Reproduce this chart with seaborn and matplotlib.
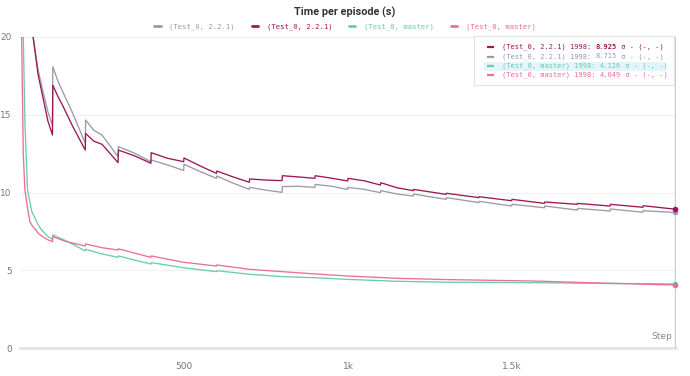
import matplotlib
matplotlib.use("Agg")
import matplotlib.pyplot as plt
import seaborn as sns
import pandas as pd
from matplotlib.patches import Rectangle

# series names / colours
names = ["(Test_0, 2.2.1) ", "(Test_0, 2.2.1)", "(Test_0, master) ", "(Test_0, master)"]
labels = ["(Test_0, 2.2.1)", "(Test_0, 2.2.1)", "(Test_0, master)", "(Test_0, master)"]
colors = ["#9a9ca3", "#9c1756", "#6ccbb0", "#ec6e97"]

# 2.2.1 runs (sawtooth drops every 100 steps)
steps_221 = [1, 20, 40, 55, 70, 85, 99, 100, 115, 130, 160, 199, 200, 225, 250, 299, 300, 350,
             399, 400, 450, 499, 500, 550, 599, 600, 650, 699, 700, 750, 799, 800, 850, 899,
             900, 950, 999, 1000, 1050, 1099, 1100, 1150, 1199, 1200, 1299, 1300, 1399, 1400,
             1499, 1500, 1599, 1600, 1699, 1700, 1799, 1800, 1899, 1900, 1998]
gray_221 = [32, 24, 20.0, 17.9, 16.5, 15.2, 14.3, 18.1, 17.2, 16.5, 15.13, 13.16, 14.66, 14.0,
            13.7, 12.3, 12.95, 12.52, 11.98, 12.09, 11.77, 11.42, 11.81, 11.34, 10.91, 11.06,
            10.6, 10.2, 10.33, 10.15, 10.01, 10.38, 10.4, 10.33, 10.52, 10.4, 10.2, 10.33,
            10.2, 9.99, 10.12, 9.9, 9.77, 9.9, 9.56, 9.67, 9.35, 9.43, 9.13, 9.24, 9.02,
            9.13, 8.87, 8.98, 8.81, 8.94, 8.73, 8.83, 8.715]
red_221 = [32, 24, 20.0, 17.6, 16.1, 14.6, 13.7, 16.9, 16.2, 15.6, 14.28, 12.73, 13.8, 13.3,
           13.1, 11.92, 12.73, 12.35, 11.88, 12.56, 12.2, 11.98, 12.22, 11.7, 11.23, 11.38,
           11.0, 10.66, 10.87, 10.8, 10.76, 11.08, 11.0, 10.91, 11.08, 10.92, 10.74, 10.91,
           10.75, 10.48, 10.63, 10.3, 10.12, 10.2, 9.88, 9.95, 9.67, 9.73, 9.47, 9.56, 9.3,
           9.39, 9.24, 9.3, 9.13, 9.24, 9.05, 9.15, 8.925]

# master runs
steps_master = [1, 5, 10, 15, 23, 30, 36, 56, 66, 86, 99, 100, 140, 199, 200, 250, 299, 300,
                350, 399, 400, 500, 599, 600, 700, 800, 900, 1000, 1150, 1300, 1560, 1800, 1998]
teal_master = [32, 27, 20.0, 14.5, 10.16, 9.4, 8.77, 7.9, 7.59, 7.15, 7.0, 7.27, 6.9, 6.24,
               6.35, 6.05, 5.83, 5.92, 5.65, 5.4, 5.49, 5.16, 4.91, 4.97, 4.74, 4.59, 4.52,
               4.41, 4.29, 4.23, 4.2, 4.15, 4.126]
pink_master = [30, 20.0, 12.5, 10.16, 9.0, 8.12, 7.9, 7.37, 7.2, 6.95, 6.84, 7.16, 6.85, 6.56,
               6.69, 6.45, 6.3, 6.38, 6.1, 5.83, 5.92, 5.51, 5.27, 5.34, 5.06, 4.91, 4.76,
               4.63, 4.48, 4.4, 4.31, 4.16, 4.049]

last_vals = ["8.715", "8.925", "4.126", "4.049"]

frames = []
for name, st, vals in [(names[0], steps_221, gray_221), (names[1], steps_221, red_221),
                       (names[2], steps_master, teal_master), (names[3], steps_master, pink_master)]:
    frames.append(pd.DataFrame({"step": st, "value": vals, "series": name}))
df = pd.concat(frames, ignore_index=True)

sns.set_style("white")
fig = plt.figure(figsize=(6.9, 3.76), dpi=100)
ax = fig.add_axes([20 / 690, 1 - 348 / 376, 656 / 690, 311 / 376])

sns.lineplot(data=df, x="step", y="value", hue="series", hue_order=names,
             palette=dict(zip(names, colors)), estimator=None, sort=True,
             linewidth=0.95, legend=False, ax=ax)

ax.set_xlim(0, 2000)
ax.set_ylim(0, 20)
ax.set_xlabel("")
ax.set_ylabel("")
for s in ["top", "right", "left"]:
    ax.spines[s].set_visible(False)
ax.spines["bottom"].set_color("#e4e4e4")
ax.spines["bottom"].set_linewidth(2)
ax.set_yticks([0, 5, 10, 15, 20])
ax.set_yticklabels(["0", "5", "10", "15", "20"])
ax.set_xticks([500, 1000, 1500])
ax.set_xticklabels(["500", "1k", "1.5k"])
ax.tick_params(axis="x", direction="inout", length=8, width=0.8, color="#dddddd",
               labelsize=6.5, labelcolor="#777777", pad=6)
ax.tick_params(axis="y", length=0, labelsize=6.5, labelcolor="#777777", pad=6)
ax.grid(axis="y", color="#f0f0f0", linewidth=0.8)
ax.set_axisbelow(True)

# hover line and end markers
ax.axvline(1998, color="#a9d8f0", linewidth=1, zorder=5)
for c, v in zip(colors, [gray_221[-1], red_221[-1], teal_master[-1], pink_master[-1]]):
    ax.scatter([1998], [v], s=9, color=c, edgecolor=c, zorder=6, clip_on=False)

ax.text(0.994, 0.022, "Step", transform=ax.transAxes, ha="right", va="bottom",
        fontsize=6.5, color="#888888")

# title
fig.text(0.5, 1 - 12 / 376, "Time per episode (s)", ha="center", va="center",
         fontsize=7.8, fontweight="bold", color="#333333", family="Roboto")

# top legend
mono = "DejaVu Sans Mono"
handles = [plt.Line2D([], [], color=c, linewidth=2) for c in colors]
leg = fig.legend(handles, labels, loc="center", bbox_to_anchor=(0.5, 1 - 27 / 376), ncol=4,
                 frameon=False, prop={"family": mono, "size": 5.2}, handlelength=0.9,
                 handletextpad=1.2, columnspacing=2.3)
for t, c in zip(leg.get_texts(), colors):
    t.set_color(c)

# hover box legend (top right)
box = Rectangle((0.692, 0.846), 0.305, 0.157, transform=ax.transAxes, facecolor="white",
                edgecolor="#e4e4e4", linewidth=0.8, zorder=7, clip_on=False)
ax.add_patch(box)
hl = Rectangle((0.708, 0.892), 0.276, 0.029, transform=ax.transAxes, facecolor="#e3f4fa",
               edgecolor="none", zorder=7.5, clip_on=False)
ax.add_patch(hl)
row_order = [1, 0, 2, 3]
row_y = [47, 56.5, 66, 75]
fs = 5.0
for i, y in zip(row_order, row_y):
    yax = (348 - y) / 311
    ax.plot([0.712, 0.722], [yax, yax], transform=ax.transAxes, color=colors[i], linewidth=1.6,
            zorder=8, clip_on=False, solid_capstyle="butt")
    first = ax.text(0.735, yax, labels[i] + " 1998: ", transform=ax.transAxes, ha="left",
                    va="center", fontsize=fs, family=mono, color=colors[i], zorder=9)
    val = ax.annotate(last_vals[i], xy=(1, 0.5), xycoords=first, ha="left", va="center",
                      fontsize=fs, family=mono, color=colors[i],
                      fontweight="bold" if i == 1 else "normal", zorder=9)
    ax.annotate(" σ - (-, -)", xy=(1, 0.5), xycoords=val, ha="left", va="center",
                fontsize=fs, family=mono, color=colors[i], zorder=9)

fig.savefig("out.png", dpi=100)
